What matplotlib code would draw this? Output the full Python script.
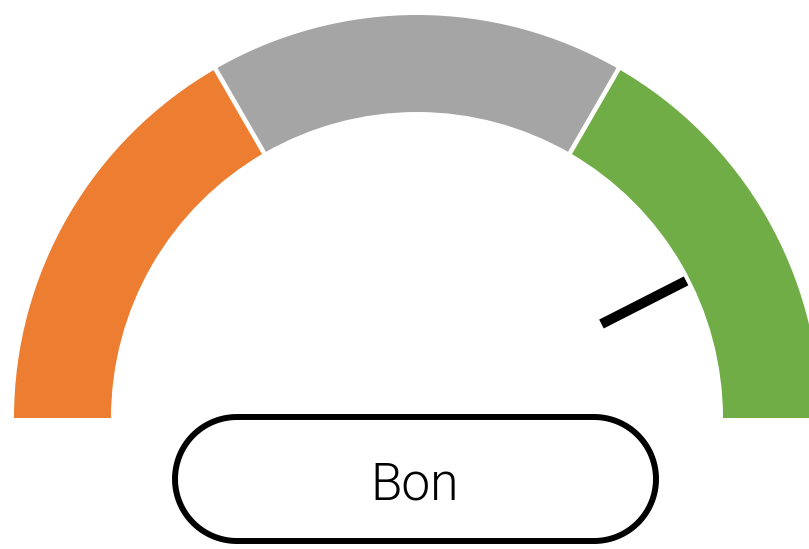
import matplotlib.pyplot as plt
import numpy as np
from matplotlib.patches import Wedge, Polygon

# Gauge bands (percent of the dial, left to right) and the reading
band_names = ['Mauvais', 'Moyen', 'Bon']
band_edges = [0, 100 / 3, 200 / 3, 100]
band_colors = ['#ED7D31', '#A5A5A5', '#70AD47']
needle_value = 85
label_text = 'Bon'

W, H = 809, 549
cx, cy = 417, H - 418
r_out, r_in = 403, 306


def pct_to_deg(p):
    return 180 - p * 180 / 100


fig = plt.figure(figsize=(W / 100, H / 100), dpi=100)
ax = fig.add_axes([0, 0, 1, 1])
ax.set_xlim(0, W)
ax.set_ylim(0, H)
ax.axis('off')

for lo, hi, col in zip(band_edges[:-1], band_edges[1:], band_colors):
    ax.add_patch(Wedge((cx, cy), r_out, pct_to_deg(hi), pct_to_deg(lo),
                       width=r_out - r_in, facecolor=col, linewidth=0))

# white gaps between bands
for p in band_edges[1:-1]:
    a = np.radians(pct_to_deg(p))
    ax.plot([cx + (r_in - 2) * np.cos(a), cx + (r_out + 2) * np.cos(a)],
            [cy + (r_in - 2) * np.sin(a), cy + (r_out + 2) * np.sin(a)],
            color='white', linewidth=3.3, solid_capstyle='butt')

# Needle: short bar sitting just inside the dial
a = np.radians(pct_to_deg(needle_value))
r0, r1 = 207, 302
ax.plot([cx + r0 * np.cos(a), cx + r1 * np.cos(a)],
        [cy + r0 * np.sin(a), cy + r1 * np.sin(a)],
        color='black', linewidth=7.2, solid_capstyle='butt')

# Stadium-shaped label box (straight top/bottom, half-circle ends)
x0, x1 = 175, 656
y0, y1 = H - 541, H - 417
rr = (y1 - y0) / 2
ym = (y0 + y1) / 2
t = np.linspace(-np.pi / 2, np.pi / 2, 60)
right = np.column_stack([x1 - rr + rr * np.cos(t), ym + rr * np.sin(t)])
left = np.column_stack([x0 + rr - rr * np.cos(t), ym - rr * np.sin(t)])
ax.add_patch(Polygon(np.vstack([right, left]), closed=True,
                     facecolor='white', edgecolor='black', linewidth=4.3))
ax.text(415, H - 499, label_text, ha='center', va='baseline',
        fontsize=37, fontfamily='Roboto', fontweight=300, color='black')

fig.savefig('out.png', dpi=100)
